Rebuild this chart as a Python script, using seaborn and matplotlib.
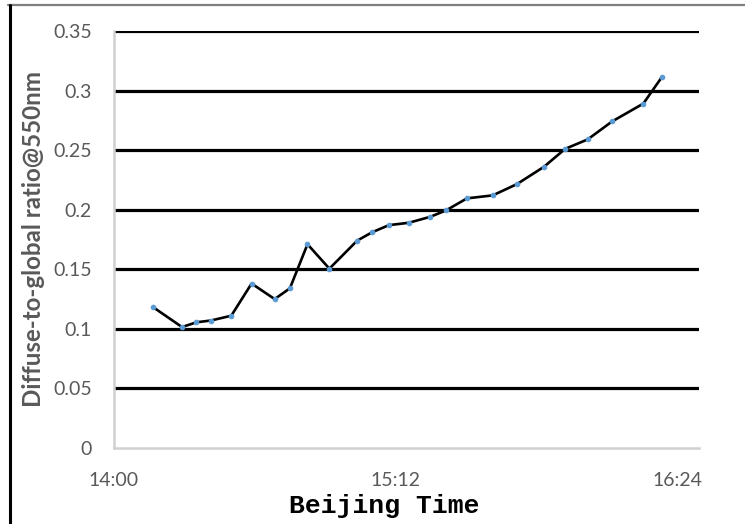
import matplotlib
matplotlib.use("Agg")
import matplotlib.pyplot as plt
from matplotlib.lines import Line2D
import seaborn as sns
import pandas as pd

# Measurement times (minutes after 14:00 Beijing time) and diffuse-to-global ratio at 550 nm
minutes = [10.1, 17.4, 21.1, 24.8, 30.0, 35.2, 41.1, 45.0, 49.5, 55.1,
           62.2, 66.0, 70.3, 75.4, 80.9, 85.0, 90.3, 96.9, 103.1, 110.0,
           115.4, 121.2, 127.4, 135.4, 140.2]
ratio = [0.118, 0.1015, 0.1055, 0.107, 0.111, 0.138, 0.125, 0.134, 0.171, 0.1505,
         0.174, 0.181, 0.187, 0.189, 0.194, 0.1995, 0.2095, 0.212, 0.2215, 0.236,
         0.251, 0.259, 0.274, 0.289, 0.3115]

x_ticks = [0, 72, 144]
x_tick_labels = ["14:00", "15:12", "16:24"]
y_ticks = [0, 0.05, 0.1, 0.15, 0.2, 0.25, 0.3, 0.35]
y_tick_labels = ["0", "0.05", "0.1", "0.15", "0.2", "0.25", "0.3", "0.35"]

df = pd.DataFrame({"minutes": minutes, "ratio": ratio})

sns.set_theme(style="white")
plt.rcParams["font.family"] = ["Lato", "DejaVu Sans"]

fig = plt.figure(figsize=(7.45, 5.24), dpi=100)
ax = fig.add_axes([0.153, 0.145, 0.785, 0.796])

sns.lineplot(data=df, x="minutes", y="ratio", ax=ax, color="black", linewidth=1.9,
             marker="o", markersize=3.3, markerfacecolor="#5B9BD5",
             markeredgecolor="#5B9BD5", zorder=3)

ax.set_xlim(0, 149.6)
ax.set_ylim(0, 0.35)
ax.set_xticks(x_ticks)
ax.set_xticklabels(x_tick_labels)
ax.set_yticks(y_ticks)
ax.set_yticklabels(y_tick_labels)
ax.tick_params(axis="both", length=0, labelsize=14, labelcolor="#595959")
ax.tick_params(axis="y", pad=16)
ax.tick_params(axis="x", pad=17)

# Horizontal major gridlines in black; the zero line is left to the grey axis
ax.yaxis.grid(True, color="black", linewidth=2.3)
ax.xaxis.grid(False)
ax.set_axisbelow(True)
ax.get_ygridlines()[0].set_visible(False)

for side in ("top", "right"):
    ax.spines[side].set_visible(False)
for side in ("left", "bottom"):
    ax.spines[side].set_color("#d0d0d0")
    ax.spines[side].set_linewidth(1.8)

ax.set_ylabel("Diffuse-to-global ratio@550nm", fontsize=17.4, fontweight="bold",
              color="#595959")
ax.yaxis.set_label_coords(-0.118, 0.5)
ax.set_xlabel("Beijing Time", fontsize=19, fontweight="bold", color="black",
              family=["Liberation Mono", "DejaVu Sans Mono"])
ax.xaxis.set_label_coords(0.462, -0.11)

# Frame lines along the top and left edges of the figure
fig.add_artist(Line2D([0.011, 1.0], [0.990, 0.990], transform=fig.transFigure,
                      color="#7f7f7f", linewidth=1.6))
fig.add_artist(Line2D([0.013, 0.013], [0.0, 0.990], transform=fig.transFigure,
                      color="black", linewidth=2.2))

fig.savefig("out.png", dpi=100)
